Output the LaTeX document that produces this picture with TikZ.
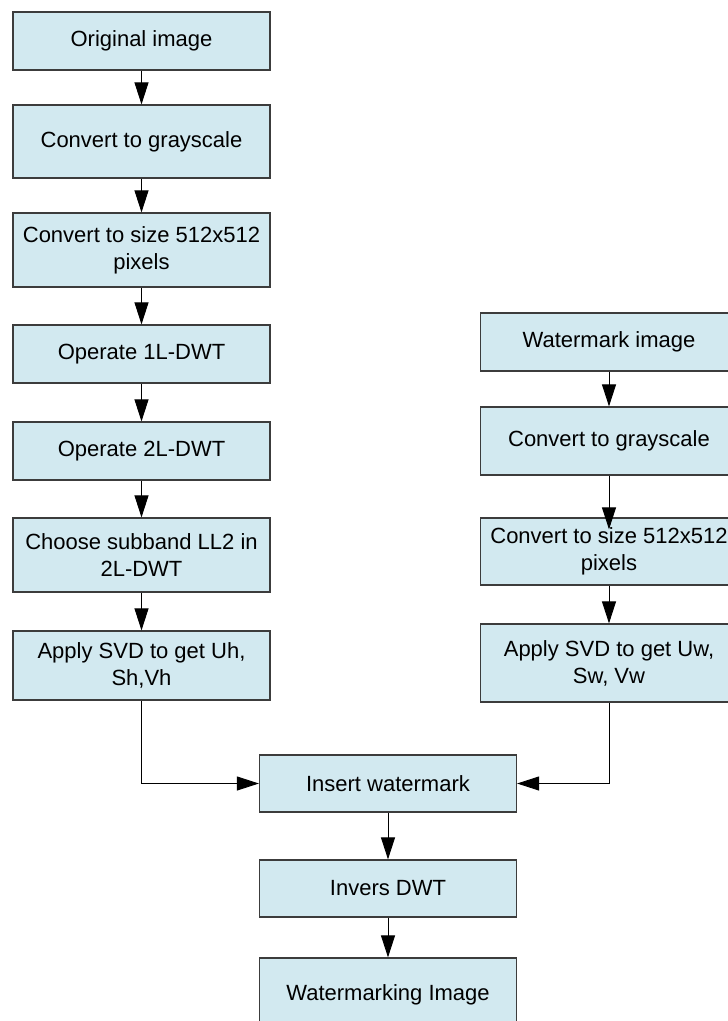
\documentclass[tikz,border=0pt]{standalone}
\usepackage{fontspec}
\setmainfont{Liberation Sans}
\usetikzlibrary{arrows.meta}
\definecolor{boxfill}{RGB}{210,233,240}
\definecolor{boxline}{RGB}{60,60,60}
\begin{document}
\begin{tikzpicture}[x=1pt,y=-1pt,
  box/.style={draw=boxline, line width=1.2pt, fill=boxfill, rectangle,
    minimum width=257pt, align=center, inner sep=0pt,
    font=\fontsize{22}{27}\selectfont},
  arr/.style={-{Triangle[length=22pt,width=14pt]}, line width=0.9pt}]
\useasboundingbox (0,0) rectangle (728,1021);
\clip (0,0) rectangle (728,1021);
% left column
\node[box, minimum height=58pt] (a1) at (141.5,41) {Original image};
\node[box, minimum height=73pt] (a2) at (141.5,141.5) {Convert to grayscale};
\node[box, minimum height=74pt] (a3) at (141.5,250) {Convert to size 512x512\\pixels};
\node[box, minimum height=58pt] (a4) at (141.5,354) {Operate 1L-DWT};
\node[box, minimum height=58pt] (a5) at (141.5,451) {Operate 2L-DWT};
\node[box, minimum height=74pt] (a6) at (141.5,555) {Choose subband LL2 in\\2L-DWT};
\node[box, minimum height=69pt] (a7) at (141.5,665.5) {Apply SVD to get Uh,\\Sh,Vh};
% right column
\node[box, minimum height=58pt] (b1) at (609,342) {Watermark image};
\node[box, minimum height=68pt] (b2) at (609,441) {Convert to grayscale};
\node[box, minimum height=67pt] (b3) at (609,551.5) {Convert to size 512x512\\pixels};
\node[box, minimum height=78pt] (b4) at (609,663) {Apply SVD to get Uw,\\Sw, Vw};
% bottom column
\node[box, minimum height=57pt] (c1) at (388,783.5) {Insert watermark};
\node[box, minimum height=57pt] (c2) at (388,888.5) {Invers DWT};
\node[box, minimum height=74pt] (c3) at (388,995) {Watermarking Image};
% connectors
\draw[arr] (a1.south) -- (a2.north);
\draw[arr] (a2.south) -- (a3.north);
\draw[arr] (a3.south) -- (a4.north);
\draw[arr] (a4.south) -- (a5.north);
\draw[arr] (a5.south) -- (a6.north);
\draw[arr] (a6.south) -- (a7.north);
\draw[arr] (b1.south) -- (b2.north);
\draw[arr] (b2.south) -- ([yshift=-12pt]b3.north);
\draw[arr] (b3.south) -- (b4.north);
\draw[arr] (a7.south) |- (c1.west);
\draw[arr] (b4.south) |- (c1.east);
\draw[arr] (c1.south) -- (c2.north);
\draw[arr] (c2.south) -- (c3.north);
\end{tikzpicture}
\end{document}
